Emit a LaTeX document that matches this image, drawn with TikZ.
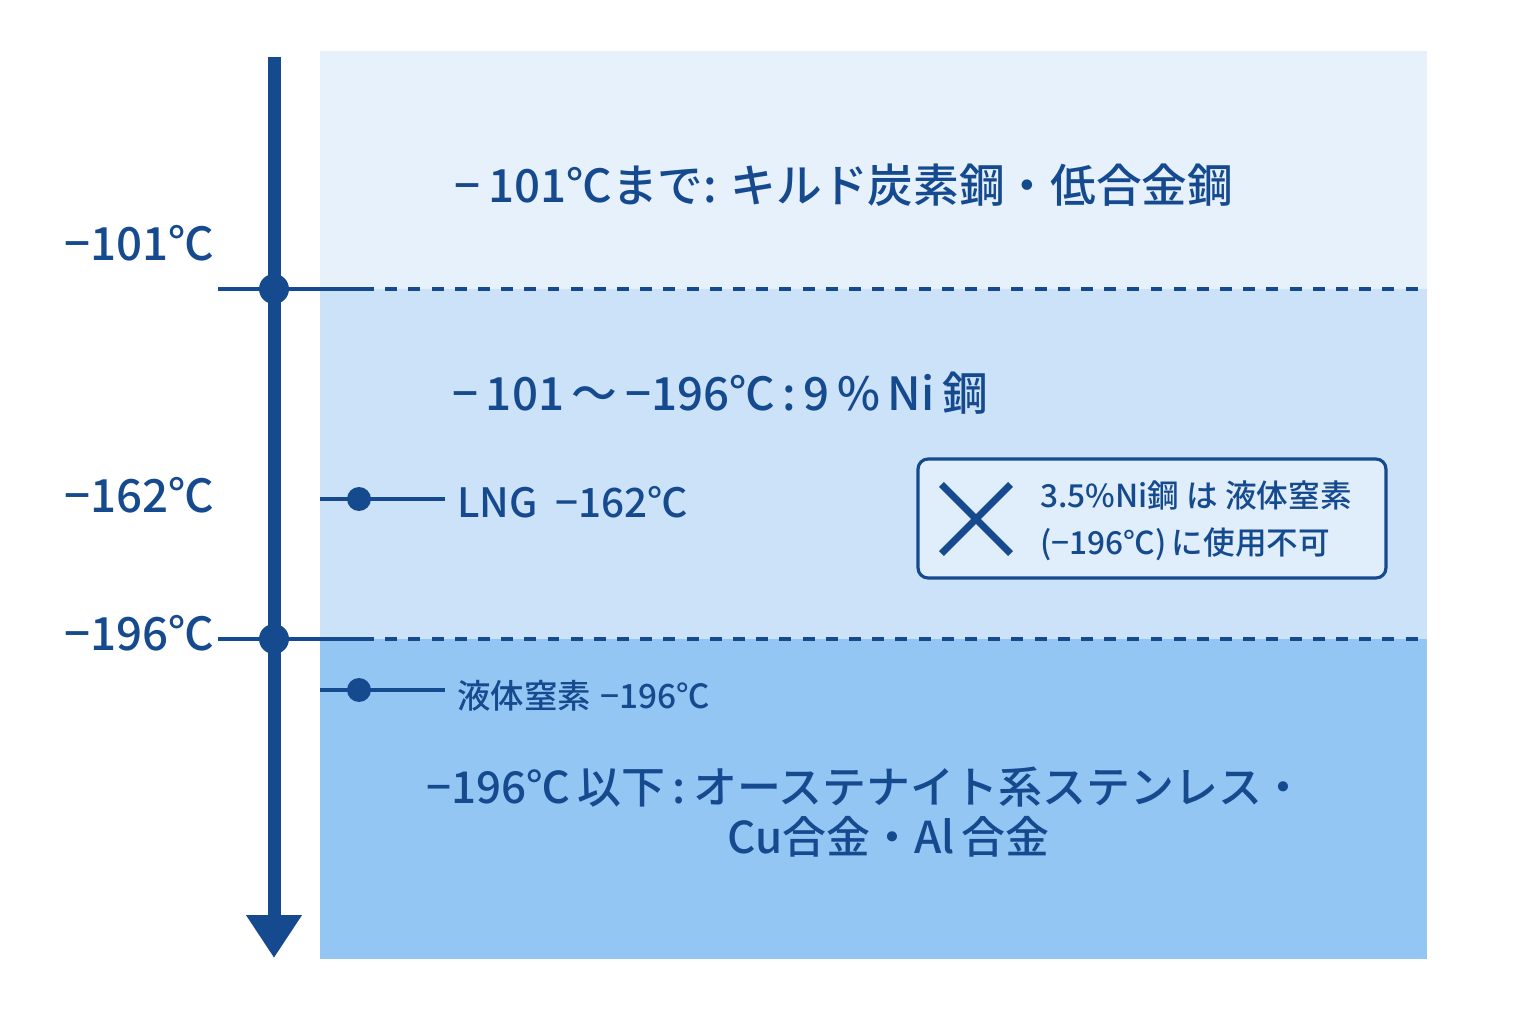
\documentclass[tikz,border=0pt]{standalone}
\usepackage{fontspec}
\usepackage{tikz}
\usetikzlibrary{arrows.meta, shapes.misc}
\setmainfont{Noto Sans CJK JP}[BoldFont={Noto Sans CJK JP Medium}]
\definecolor{axisColor}{RGB}{22,74,143}
\definecolor{bandOne}{RGB}{231,241,252}
\definecolor{bandTwo}{RGB}{204,226,248}
\definecolor{bandThree}{RGB}{148,198,244}
\tikzstyle{chart} = [x = .02cm, y = -.02cm]
\tikzstyle{axisLine} = [color=axisColor, line width = 7.4pt, -{Triangle[width=1.06cm, length=.86cm]}]
\tikzstyle{tickLine} = [color=axisColor, line width = 1.8pt]
\tikzstyle{dashLine} = [tickLine, dash pattern = on 6.8pt off 6.4pt]
\tikzstyle{bigDot} = [circle, fill=axisColor, inner sep=0pt, minimum size = .6cm]
\tikzstyle{smallDot} = [circle, fill=axisColor, inner sep=0pt, minimum size = .48cm]
\tikzstyle{levelText} = [color=axisColor, font=\bfseries\fontsize{26}{30}\selectfont, anchor=east, inner sep=0pt]
\tikzstyle{bandText} = [color=axisColor, font=\bfseries\fontsize{26}{30}\selectfont, inner sep=0pt]
\tikzstyle{markerText} = [color=axisColor, font=\bfseries\fontsize{23}{27}\selectfont, anchor=west, inner sep=0pt]
\tikzstyle{noteBox} = [draw=axisColor, line width = 1.8pt, fill=bandTwo!60!white, rounded corners = .2cm, minimum width = 9.36cm, minimum height = 2.38cm]
\tikzstyle{crossMark} = [draw=axisColor, cross out, line width = 4pt, minimum size = 1.24cm]
\newcommand{\band}[3]{\fill [#3] (320, #1) rectangle (1427, #2);}
\newcommand{\levelLine}[2]{
  \coordinate (#1West) at (218, #2);
  \coordinate (#1Split) at (362, #2);
  \coordinate (#1East) at (1427, #2);
  \draw [tickLine] (#1West) -- (#1Split);
  \draw [dashLine] (#1Split) -- (#1East);
  \node [bigDot] (#1Dot) at (274, #2) {};
}
\newcommand{\levelLabel}[3]{\node [levelText] (#1Label) at (215, #2) {#3};}
\newcommand{\marker}[4]{
  \coordinate (#1Start) at (320, #2);
  \coordinate (#1End) at (445, #2);
  \draw [tickLine] (#1Start) -- (#1End);
  \node [smallDot] (#1Dot) at (359, #2) {};
  \node [markerText] (#1Text) at (457, #3) {#4};
}

\begin{document}
\begin{tikzpicture}[chart]
  \useasboundingbox [fill=white] (0, 0) rectangle (1536, 1024);
  \band{51}{289}{bandOne}
  \band{289}{639}{bandTwo}
  \band{639}{959}{bandThree}

  \coordinate (axisTop) at (274, 57);
  \coordinate (axisTip) at (274, 958);
  \draw [axisLine] (axisTop) -- (axisTip);

  \levelLine{upper}{289}
  \levelLine{lower}{639}
  \levelLabel{upper}{243}{−101℃}
  \levelLabel{middle}{495}{−162℃}
  \levelLabel{lower}{633}{−196℃}

  \marker{lng}{499}{502}{LNG\hspace{.35cm}−162℃}
  \marker{nitrogen}{690}{696}{\fontsize{19}{23}\selectfont 液体窒素\hspace{.2cm}−196℃}

  \node [bandText] (killed) at (844, 185) {−\,101℃まで: キルド炭素鋼・低合金鋼};
  \node [bandText, anchor=west] (nickel) at (452, 393) {−\,101\,〜\,−196℃\,:\,9\,\%\,Ni\,鋼};
  \node [bandText, align=center, font=\bfseries\fontsize{25}{30}\selectfont] (austenite) at (866, 812) {−196℃\,以下\,:\,オーステナイト系ステンレス・\\[-.05cm] \hspace*{.9cm}Cu合金・Al\,合金};

  \node [noteBox] (note) at (1152, 518.5) {};
  \node [crossMark] (noMark) at (976, 519) {};
  \node [color=axisColor, font=\bfseries\fontsize{18}{27}\selectfont, align=left, anchor=west, inner sep=0pt] (noteText) at (1040, 521) {3.5\%Ni鋼 は 液体窒素\\(−196℃)\,に使用不可};
\end{tikzpicture}
\end{document}
